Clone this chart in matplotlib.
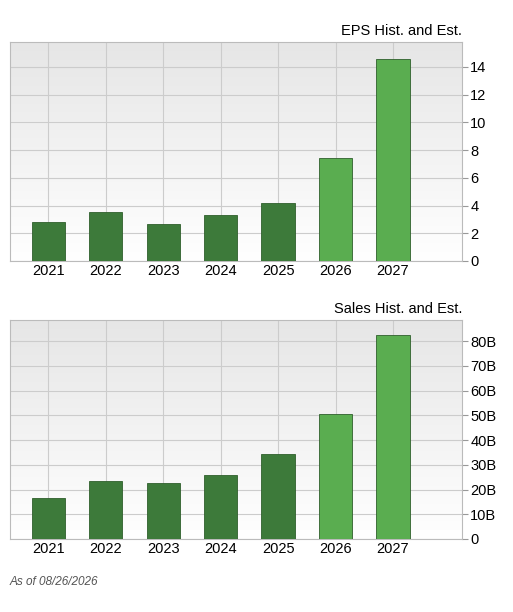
import matplotlib
matplotlib.use("Agg")
import matplotlib.pyplot as plt
import numpy as np

plt.rcParams['font.family'] = ['Liberation Sans', 'DejaVu Sans']

years = ["2021", "2022", "2023", "2024", "2025", "2026", "2027"]
eps = [2.8, 3.5, 2.65, 3.3, 4.2, 7.45, 14.6]
sales = [16.5, 23.5, 22.8, 25.8, 34.5, 50.5, 82.5]
is_est = [False, False, False, False, False, True, True]
eps_ticks = [0, 2, 4, 6, 8, 10, 12, 14]
sales_ticks = [0, 10, 20, 30, 40, 50, 60, 70, 80]
sales_labels = ["0"] + [f"{v}B" for v in sales_ticks[1:]]

W, H = 513, 612
fig = plt.figure(figsize=(W/100, H/100), dpi=100)
fig.patch.set_facecolor("white")

def panel(top, bottom, vals, ticks, labels, ymax, title):
    ax = fig.add_axes([10/W, 1-bottom/H, 452/W, (bottom-top)/H])
    x0, x1 = -0.667, 7.2
    grad = np.linspace(0, 1, 256).reshape(-1, 1)
    ax.imshow(grad, extent=[x0, x1, 0, ymax], aspect="auto", cmap=matplotlib.colors.LinearSegmentedColormap.from_list("g", ["white", "#e6e6e6"]), origin="lower", zorder=0)
    x = np.arange(len(years))
    colors = ["#5aad50" if e else "#3d7a3a" for e in is_est]
    ax.bar(x, vals, width=0.58, color=colors, edgecolor="#2f5f2c", linewidth=0.6, zorder=3)
    ax.set_xlim(x0, x1)
    ax.set_ylim(0, ymax)
    ax.set_xticks(x)
    ax.set_xticklabels(years, fontsize=10.5)
    ax.yaxis.tick_right()
    ax.set_yticks(ticks)
    ax.set_yticklabels(labels, fontsize=10.5)
    ax.tick_params(length=0, pad=2)
    ax.tick_params(axis="y", length=4, color="#999999")
    ax.grid(True, color="#cccccc", linewidth=0.8, zorder=1)
    for s in ax.spines.values():
        s.set_color("#bbbbbb")
    ax.set_title(title, loc="right", fontsize=10.5, pad=5)
    return ax

panel(42, 261, eps, eps_ticks, [str(t) for t in eps_ticks], 15.8, "EPS Hist. and Est.")
panel(320, 539, sales, sales_ticks, sales_labels, 88.6, "Sales Hist. and Est.")
fig.text(10/W, 1-582/H, "As of 08/26/2026", fontsize=8.5, style="italic", color="#555555", va="center")
fig.savefig("out.png", dpi=100)
